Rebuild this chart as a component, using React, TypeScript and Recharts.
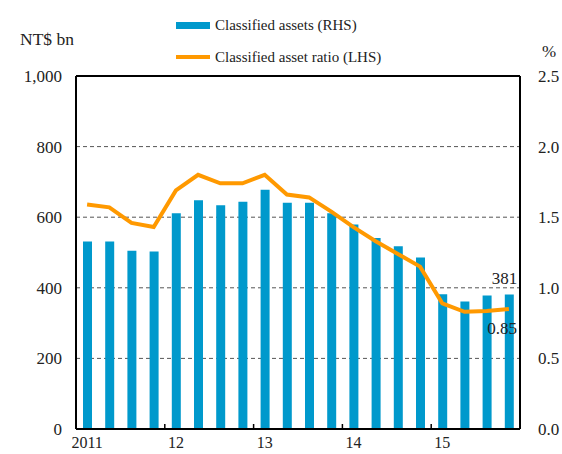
import React from 'react';
import {
  ComposedChart,
  Bar,
  Line,
  XAxis,
  YAxis,
  CartesianGrid,
  ReferenceLine,
  LabelList,
} from 'recharts';

// quarterly, 2011Q1 .. 2015Q4
const quarters = [
  '2011Q1', '2011Q2', '2011Q3', '2011Q4',
  '2012Q1', '2012Q2', '2012Q3', '2012Q4',
  '2013Q1', '2013Q2', '2013Q3', '2013Q4',
  '2014Q1', '2014Q2', '2014Q3', '2014Q4',
  '2015Q1', '2015Q2', '2015Q3', '2015Q4',
];
const classifiedAssets = [
  531, 531, 505, 503, 611, 648, 634, 644, 678, 641,
  641, 611, 579, 541, 518, 486, 382, 361, 378, 381,
];
const assetRatio = [
  1.59, 1.57, 1.46, 1.43, 1.69, 1.8, 1.74, 1.74, 1.8, 1.66,
  1.64, 1.54, 1.43, 1.33, 1.24, 1.15, 0.89, 0.83, 0.835, 0.85,
];
const yearTicks = ['2011Q1', '2012Q1', '2013Q1', '2014Q1', '2015Q1'];
const yearLabels = ['2011', '12', '13', '14', '15'];
const leftTicks = [0, 200, 400, 600, 800, 1000];
const rightTicks = [0, 0.5, 1, 1.5, 2, 2.5];

const data = quarters.map((q, i) => ({
  q,
  assets: classifiedAssets[i],
  ratio: assetRatio[i],
}));

const FONT = "'Times New Roman', 'Liberation Serif', Tinos, 'DejaVu Serif', serif";
const TEXT = '#222';
const BLUE = '#0099CC';
const ORANGE = '#FF9900';
const X_MARGIN = 8;

const YearTick = (props: any) => {
  const { x, y, payload } = props;
  const idx = yearTicks.indexOf(payload.value);
  const half = payload.offset ?? 11.1;
  const axisY = y - X_MARGIN;
  return (
    <g>
      {idx > 0 && (
        <line x1={x - half} x2={x - half} y1={axisY} y2={axisY - 5} stroke="#000" strokeWidth={1.5} />
      )}
      <text x={x} y={y} dy="0.71em" textAnchor="middle" fill={TEXT} fontSize={16} fontFamily={FONT}>
        {yearLabels[idx]}
      </text>
    </g>
  );
};

const lastOnly = (fmt: (v: number) => string, dx: number, dy: number) => (props: any) => {
  const { x, y, width, index, value } = props;
  if (index !== quarters.length - 1) return null;
  const cx = width != null ? x + width / 2 : x;
  return (
    <text x={cx + dx} y={y + dy} textAnchor="end" dominantBaseline="central" fill={TEXT} fontSize={17} fontFamily={FONT}>
      {fmt(value)}
    </text>
  );
};

const LegendBox = () => (
  <div style={{ position: 'absolute', left: 176, top: 15, fontFamily: FONT, fontSize: 15, color: TEXT, lineHeight: '20px' }}>
    <div style={{ display: 'flex', alignItems: 'center', height: 20 }}>
      <span style={{ display: 'inline-block', width: 34, height: 7, background: BLUE, marginRight: 5 }} />
      Classified assets (RHS)
    </div>
    <div style={{ display: 'flex', alignItems: 'center', height: 20, marginTop: 12 }}>
      <span style={{ display: 'inline-block', width: 34, height: 4, background: ORANGE, marginRight: 5 }} />
      Classified asset ratio (LHS)
    </div>
  </div>
);

export default function App() {
  return (
    <div style={{ position: 'absolute', left: 0, top: 0, width: 562, height: 454, background: '#fff' }}>
      <ComposedChart
        width={562}
        height={454}
        data={data}
        margin={{ top: 76, right: 12, left: 26, bottom: 0 }}
        barCategoryGap={0}
      >
        <CartesianGrid vertical={false} stroke="#555" strokeDasharray="4 3" yAxisId="left" />
        <XAxis
          dataKey="q"
          ticks={yearTicks}
          interval={0}
          tick={<YearTick />}
          tickLine={false}
          tickSize={0}
          tickMargin={X_MARGIN}
          height={25}
          axisLine={{ stroke: '#000', strokeWidth: 2 }}
        />
        <YAxis
          yAxisId="left"
          domain={[0, 1000]}
          ticks={leftTicks}
          width={50}
          tickLine={false}
          tickSize={0}
          tickMargin={14}
          tickFormatter={(v: number) => v.toLocaleString('en-US')}
          tick={{ fill: TEXT, fontSize: 17, fontFamily: FONT }}
          axisLine={{ stroke: '#000', strokeWidth: 2 }}
        />
        <YAxis
          yAxisId="right"
          orientation="right"
          domain={[0, 2.5]}
          ticks={rightTicks}
          width={30}
          tickLine={false}
          tickSize={0}
          tickMargin={18}
          tickFormatter={(v: number) => v.toFixed(1)}
          tick={{ fill: TEXT, fontSize: 17, fontFamily: FONT, textAnchor: 'start' }}
          axisLine={{ stroke: '#000', strokeWidth: 2 }}
        />
        <ReferenceLine yAxisId="left" y={1000} stroke="#000" strokeWidth={2} />
        <Bar
          yAxisId="left"
          dataKey="assets"
          name="Classified assets (RHS)"
          fill={BLUE}
          barSize={9}
          isAnimationActive={false}
        >
          <LabelList dataKey="assets" content={lastOnly((v) => String(v), 8, -16)} />
        </Bar>
        <Line
          yAxisId="right"
          dataKey="ratio"
          name="Classified asset ratio (LHS)"
          type="linear"
          stroke={ORANGE}
          strokeWidth={4}
          dot={false}
          isAnimationActive={false}
        >
          <LabelList dataKey="ratio" content={lastOnly((v) => v.toFixed(2), 8, 20)} />
        </Line>
      </ComposedChart>
      <LegendBox />
      <div style={{ position: 'absolute', left: 20, top: 29, fontFamily: FONT, fontSize: 17.5, color: TEXT }}>
        NT$ bn
      </div>
      <div style={{ position: 'absolute', left: 542, top: 42, fontFamily: FONT, fontSize: 17, color: TEXT }}>
        %
      </div>
    </div>
  );
}
